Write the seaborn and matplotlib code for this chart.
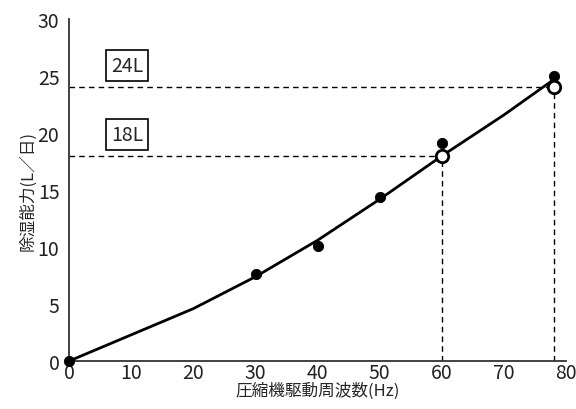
import seaborn as sns
import matplotlib.pyplot as plt
import pandas as pd

# measured points (filled) and rated points (open)
meas_hz = [0, 30, 40, 50, 60, 78]
meas_cap = [0, 7.6, 10.1, 14.4, 19.1, 25.0]
rated_hz = [60, 78]
rated_cap = [18, 24]
rated_labels = ['18L', '24L']
# fitted curve
curve_hz = [0, 10, 20, 30, 40, 50, 60, 70, 78]
curve_cap = [0, 2.3, 4.6, 7.4, 10.6, 14.2, 18.0, 21.6, 24.7]

sns.set_style('white')
plt.rcParams['font.family'] = ['Noto Sans CJK JP', 'DejaVu Sans']

fig = plt.figure(figsize=(5.76, 4.1), dpi=100)
ax = fig.add_axes([0.12, 0.117, 0.863, 0.834])

curve = pd.DataFrame({'hz': curve_hz, 'cap': curve_cap})
sns.lineplot(data=curve, x='hz', y='cap', color='black', linewidth=2, ax=ax)

for hz, cap, lab in zip(rated_hz, rated_cap, rated_labels):
    ax.plot([0, hz], [cap, cap], ls=(0, (4, 3)), color='black', lw=1)
    ax.plot([hz, hz], [0, cap], ls=(0, (4, 3)), color='black', lw=1)
    ax.text(9.3, cap + 1.9, lab, fontsize=14, ha='center', va='center',
            bbox=dict(boxstyle='square,pad=0.25', fc='white', ec='black', lw=1.2))

sns.scatterplot(x=meas_hz, y=meas_cap, color='black', s=55, edgecolor='black',
                ax=ax, clip_on=False, zorder=5)
sns.scatterplot(x=rated_hz, y=rated_cap, color='white', s=80, edgecolor='black',
                linewidth=2, ax=ax, clip_on=False, zorder=6)

ax.set_xlim(0, 80)
ax.set_ylim(0, 30)
ax.set_xticks(range(0, 81, 10))
ax.set_yticks(range(0, 31, 5))
ax.tick_params(direction='in', length=6, labelsize=14, color='#333333',
               labelcolor='#222222')
ax.tick_params(axis='y', pad=7)
ax.tick_params(axis='x', pad=1)
ax.spines['top'].set_visible(False)
ax.spines['right'].set_visible(False)
for s in ['left', 'bottom']:
    ax.spines[s].set_color('#333333')
    ax.spines[s].set_linewidth(1.3)
ax.set_xlabel('圧縮機駆動周波数(Hz)', fontsize=12, labelpad=-1)
ax.set_ylabel('除湿能力(L／日)', fontsize=12, labelpad=1)

fig.savefig('out.png', dpi=100)
